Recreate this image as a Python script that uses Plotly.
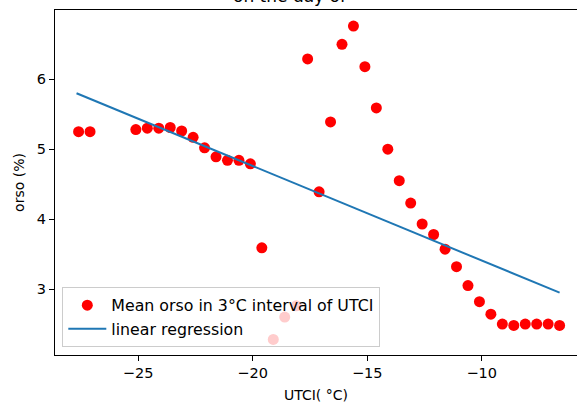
import plotly.graph_objects as go
import numpy as np

# Data
utci = [-27.6, -27.1, -25.1, -24.6, -24.1, -23.6, -23.1, -22.6, -22.1, -21.6,
        -21.1, -20.6, -20.1, -19.6, -19.1, -18.6, -18.1, -17.6, -17.1, -16.6,
        -16.1, -15.6, -15.1, -14.6, -14.1, -13.6, -13.1, -12.6, -12.1, -11.6,
        -11.1, -10.6, -10.1, -9.6, -9.1, -8.6, -8.1, -7.6, -7.1, -6.6]
orso = [5.25, 5.25, 5.28, 5.30, 5.30, 5.31, 5.26, 5.17, 5.02, 4.89,
        4.84, 4.84, 4.79, 3.59, 2.28, 2.60, 2.76, 6.29, 4.39, 5.39,
        6.50, 6.76, 6.18, 5.59, 5.00, 4.55, 4.23, 3.93, 3.78, 3.57,
        3.32, 3.05, 2.82, 2.64, 2.50, 2.48, 2.50, 2.50, 2.50, 2.48]
reg_slope = -0.1352
reg_intercept = 2.056
x_ticks = [-25, -20, -15, -10]
y_ticks = [3, 4, 5, 6]

reg_x = np.array([min(utci) - 0.09, max(utci)])
reg_y = reg_intercept + reg_slope * reg_x

FONT = "DejaVu Sans"
fig = go.Figure()
fig.add_trace(go.Scatter(
    x=utci, y=orso, mode="markers",
    marker=dict(color="red", size=11, line=dict(width=0)),
    name="Mean orso in 3°C interval of UTCI"))
fig.add_trace(go.Scatter(
    x=reg_x, y=reg_y, mode="lines",
    line=dict(color="#1f77b4", width=2),
    name="linear regression"))

fig.update_layout(
    width=577, height=403,
    margin=dict(l=55, r=0, t=10, b=48),
    paper_bgcolor="white", plot_bgcolor="white",
    font=dict(family=FONT, size=14, color="#000000"),
    showlegend=True,
    legend=dict(
        x=0.014, y=0.022, xanchor="left", yanchor="bottom",
        bgcolor="rgba(255,255,255,0.8)", bordercolor="#cccccc", borderwidth=1,
        font=dict(family=FONT, size=15.8, color="#000000"),
        itemwidth=38, tracegroupgap=0,
    ),
    xaxis=dict(
        range=[-28.63, -5.84], tickvals=x_ticks,
        showgrid=False, zeroline=False,
        showline=True, linecolor="black", linewidth=1.1, mirror=True,
        ticks="outside", ticklen=5, tickwidth=1.1, tickcolor="black",
        tickfont=dict(size=14.5),
        title=dict(text="UTCI( °C)", font=dict(family=FONT, size=14), standoff=10),
    ),
    yaxis=dict(
        range=[2.057, 6.99], tickvals=y_ticks,
        showgrid=False, zeroline=False,
        showline=True, linecolor="black", linewidth=1.1, mirror=False,
        ticks="outside", ticklen=5, tickwidth=1.1, tickcolor="black",
        tickfont=dict(size=14.5),
        title=dict(text="orso (%)", font=dict(family=FONT, size=14), standoff=8),
    ),
    annotations=[dict(
        text="on the day of", xref="paper", yref="paper",
        x=(290 - 55) / 522, y=1.0, xanchor="center", yanchor="bottom",
        yshift=2,
        showarrow=False, font=dict(family=FONT, size=17, color="#000000"),
    )],
)

fig.write_html("out.html")
